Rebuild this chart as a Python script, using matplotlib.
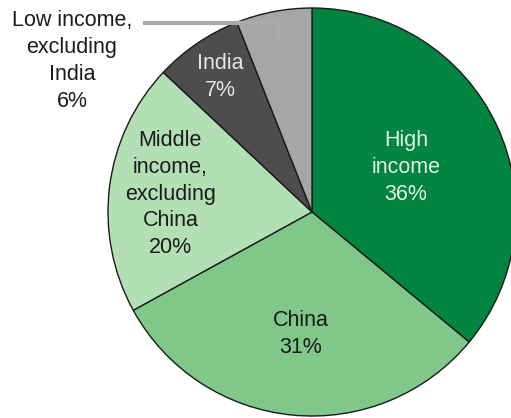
import numpy as np
import matplotlib.pyplot as plt

plt.rcParams['font.family'] = ['Liberation Sans', 'DejaVu Sans']

# slices, clockwise from the top
labels = ["High\nincome", "China", "Middle\nincome,\nexcluding\nChina", "India", "Low income,\nexcluding\nIndia"]
shares = [36, 31, 20, 7, 6]
colors = ['#00843f', '#7fc88a', '#b2dfb4', '#4d4d4d', '#a6a6a6']
text_colors = ['#e6f2e6', '#1a1a1a', '#1a1a1a', '#e6e6e6', '#1a1a1a']
label_r = [0.51, 0.60, 0.70, 0.80, None]  # fraction of radius

W, H = 511, 418
cx, cy, R = 312, H - 212, 204

fig = plt.figure(figsize=(W / 100, H / 100), dpi=100)
ax = fig.add_axes([0, 0, 1, 1])
ax.pie(shares, colors=colors, startangle=90, counterclock=False,
       center=(cx, cy), radius=R,
       wedgeprops=dict(edgecolor='#1a1a1a', linewidth=1.0))
ax.set_xlim(0, W)
ax.set_ylim(0, H)
ax.set_aspect('auto')
ax.axis('off')

# labels inside the wedges, placed on each wedge's middle angle
start = 0.0
mids = []
for s in shares:
    mids.append(np.radians((start + s / 2) / 100 * 360))
    start += s

for lab, s, m, r, tc in zip(labels, shares, mids, label_r, text_colors):
    if r is None:
        continue
    x = cx + r * R * np.sin(m)
    y = cy + r * R * np.cos(m)
    ax.text(x, y, f"{lab}\n{s}%", ha='center', va='center', fontsize=15.5,
            color=tc, linespacing=1.36)

# low income label sits outside with a leader line
m = mids[4]
ex = cx + 0.86 * R * np.sin(m)
ey = cy + 0.86 * R * np.cos(m)
ax.plot([143, ex, ex], [H - 23, H - 23, ey], color='#aaaaaa', linewidth=3,
        solid_capstyle='butt', zorder=3)
ax.text(72, H - 61, f"{labels[4]}\n{shares[4]}%", ha='center', va='center',
        fontsize=15.5, color='#1a1a1a', linespacing=1.36)

fig.savefig('out.png', dpi=100)
